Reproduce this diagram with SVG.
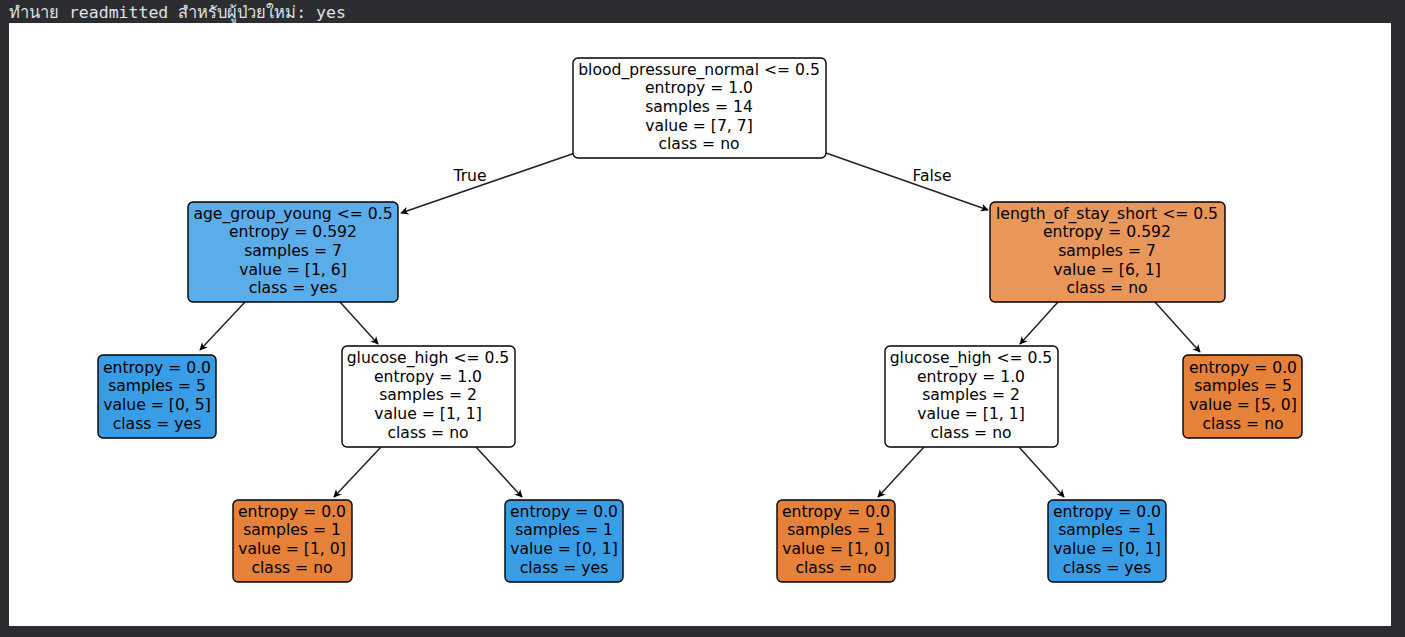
<svg xmlns="http://www.w3.org/2000/svg" width="1405" height="637" viewBox="0 0 1405 637">
<defs>
<marker id="ah" viewBox="0 0 10 10" refX="9" refY="5" markerWidth="8" markerHeight="8" markerUnits="userSpaceOnUse" orient="auto">
<path d="M0,0 L10,5 L0,10 L3,5 Z" fill="#000"/>
</marker>
<style>
.nd rect{stroke:#000;stroke-width:1.4}
.nd text{font-family:"DejaVu Sans",sans-serif;font-size:15.6px;fill:#000;text-anchor:middle}
.edge{stroke:#222;stroke-width:1.5;fill:none;marker-end:url(#ah)}
.el{font-family:"DejaVu Sans",sans-serif;font-size:15.6px;fill:#000;text-anchor:middle}
.w{fill:#fff}.b1{fill:#5aade9}.o1{fill:#e9965a}.b{fill:#399de5}.o{fill:#e58139}
</style>
</defs>
<rect width="1405" height="637" fill="#2b2d30"/>
<text x="9" y="18" font-family="'DejaVu Sans Mono','Liberation Mono','Noto Sans',monospace" font-size="16.5" fill="#dfe1e5">ทำนาย readmitted สำหรับผู้ป่วยใหม่: yes</text>
<rect x="9" y="23" width="1382" height="603" fill="#fff"/>
<g id="connectors">
<line class="edge" x1="575" y1="153" x2="401" y2="213"/>
<line class="edge" x1="826" y1="153" x2="988" y2="210"/>
<line class="edge" x1="245" y1="302" x2="200" y2="350"/>
<line class="edge" x1="340" y1="302" x2="378" y2="344"/>
<line class="edge" x1="1058" y1="302" x2="1020" y2="344"/>
<line class="edge" x1="1155" y1="302" x2="1200" y2="352"/>
<line class="edge" x1="381" y1="447" x2="334" y2="497"/>
<line class="edge" x1="476" y1="447" x2="522" y2="497"/>
<line class="edge" x1="924" y1="447" x2="878" y2="497"/>
<line class="edge" x1="1019" y1="447" x2="1064" y2="497"/>
<text class="el" x="470" y="181">True</text>
<text class="el" x="932" y="181">False</text>
</g>
<g id="n0" class="nd"><rect class="w" x="573" y="58" width="253" height="100" rx="5"/>
<text x="699" y="74.5">blood_pressure_normal &lt;= 0.5</text><text x="699" y="93.2">entropy = 1.0</text><text x="699" y="111.9">samples = 14</text><text x="699" y="130.6">value = [7, 7]</text><text x="699" y="149.3">class = no</text></g>
<g id="n1" class="nd"><rect class="b1" x="188" y="202" width="210" height="100" rx="5"/>
<text x="293" y="218.5">age_group_young &lt;= 0.5</text><text x="293" y="237.2">entropy = 0.592</text><text x="293" y="255.9">samples = 7</text><text x="293" y="274.6">value = [1, 6]</text><text x="293" y="293.3">class = yes</text></g>
<g id="n2" class="nd"><rect class="o1" x="990" y="202" width="235" height="100" rx="5"/>
<text x="1107" y="218.5">length_of_stay_short &lt;= 0.5</text><text x="1107" y="237.2">entropy = 0.592</text><text x="1107" y="255.9">samples = 7</text><text x="1107" y="274.6">value = [6, 1]</text><text x="1107" y="293.3">class = no</text></g>
<g id="n3" class="nd"><rect class="b" x="98" y="355" width="118" height="83" rx="5"/>
<text x="157" y="372.5">entropy = 0.0</text><text x="157" y="391.2">samples = 5</text><text x="157" y="409.9">value = [0, 5]</text><text x="157" y="428.6">class = yes</text></g>
<g id="n4" class="nd"><rect class="w" x="342" y="346" width="173" height="101" rx="5"/>
<text x="428" y="363">glucose_high &lt;= 0.5</text><text x="428" y="381.7">entropy = 1.0</text><text x="428" y="400.4">samples = 2</text><text x="428" y="419.1">value = [1, 1]</text><text x="428" y="437.8">class = no</text></g>
<g id="n5" class="nd"><rect class="w" x="885" y="346" width="173" height="101" rx="5"/>
<text x="971" y="363">glucose_high &lt;= 0.5</text><text x="971" y="381.7">entropy = 1.0</text><text x="971" y="400.4">samples = 2</text><text x="971" y="419.1">value = [1, 1]</text><text x="971" y="437.8">class = no</text></g>
<g id="n6" class="nd"><rect class="o" x="1183" y="355" width="119" height="83" rx="5"/>
<text x="1243" y="372.5">entropy = 0.0</text><text x="1243" y="391.2">samples = 5</text><text x="1243" y="409.9">value = [5, 0]</text><text x="1243" y="428.6">class = no</text></g>
<g id="n7" class="nd"><rect class="o" x="233" y="500" width="119" height="82" rx="5"/>
<text x="292" y="516.5">entropy = 0.0</text><text x="292" y="535.2">samples = 1</text><text x="292" y="553.9">value = [1, 0]</text><text x="292" y="572.6">class = no</text></g>
<g id="n8" class="nd"><rect class="b" x="505" y="500" width="118" height="82" rx="5"/>
<text x="564" y="516.5">entropy = 0.0</text><text x="564" y="535.2">samples = 1</text><text x="564" y="553.9">value = [0, 1]</text><text x="564" y="572.6">class = yes</text></g>
<g id="n9" class="nd"><rect class="o" x="777" y="500" width="118" height="82" rx="5"/>
<text x="836" y="516.5">entropy = 0.0</text><text x="836" y="535.2">samples = 1</text><text x="836" y="553.9">value = [1, 0]</text><text x="836" y="572.6">class = no</text></g>
<g id="n10" class="nd"><rect class="b" x="1048" y="500" width="118" height="82" rx="5"/>
<text x="1107" y="516.5">entropy = 0.0</text><text x="1107" y="535.2">samples = 1</text><text x="1107" y="553.9">value = [0, 1]</text><text x="1107" y="572.6">class = yes</text></g>
</svg>
